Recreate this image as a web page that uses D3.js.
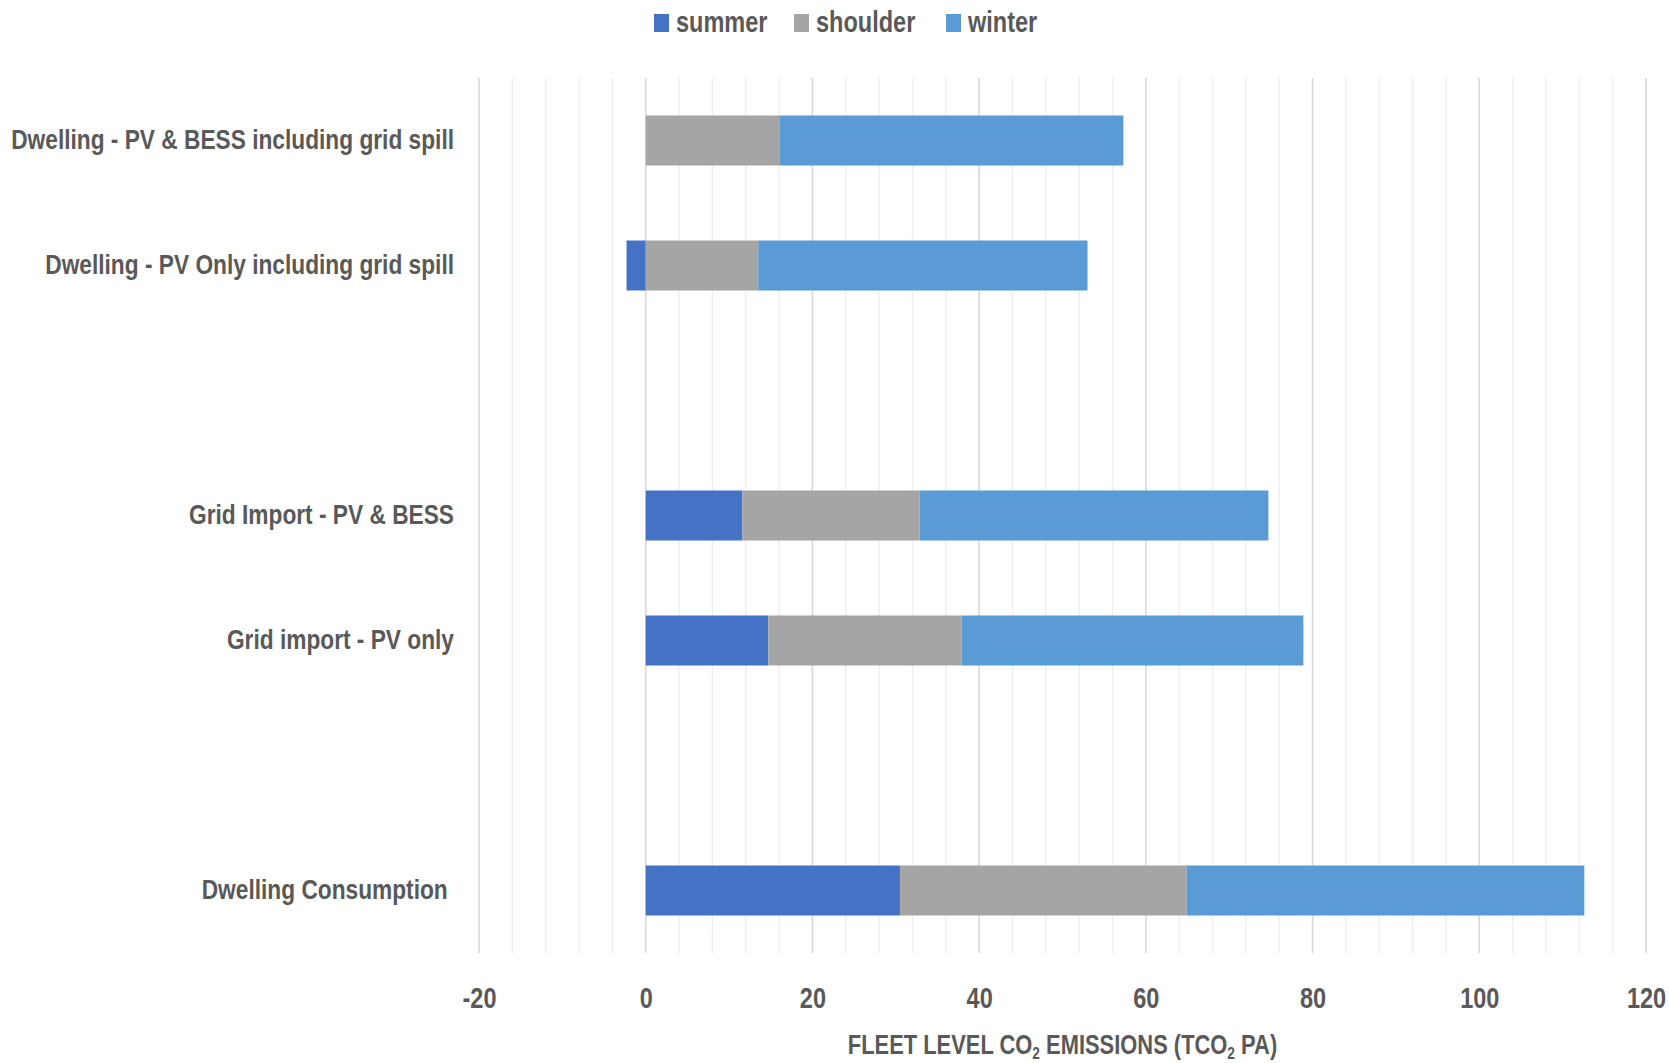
<!DOCTYPE html>
<html><head><meta charset="utf-8">
<script src="https://cdn.jsdelivr.net/npm/d3@7"></script>
<style>
html,body{margin:0;padding:0;background:#fff;}
text{font-family:"Liberation Sans",Arial,sans-serif;font-weight:bold;fill:#595959;}
</style></head>
<body><svg id="c" width="1669" height="1063"></svg>
<script>
// ---- data ----
const categories = [
  "Dwelling - PV & BESS including grid spill",
  "Dwelling - PV Only including grid spill",
  "",
  "Grid Import - PV & BESS",
  "Grid import - PV only",
  "",
  "Dwelling Consumption\u00A0"
];
const seriesNames = ["summer", "shoulder", "winter"];
const summer   = [0,    -2.3, null, 11.6, 14.7, null, 30.5];
const shoulder = [16.1, 13.5, null, 21.25, 23.2, null, 34.4];
const winter   = [41.2, 39.5, null, 41.85, 41.0, null, 47.7];
const xTicks = [-20, 0, 20, 40, 60, 80, 100, 120];
const colors = ["#4472C4", "#A5A5A5", "#5B9BD5"];

// ---- layout ----
const pL = 479, pR = 1646, pT = 78, pB = 953;
const svg = d3.select("#c");

const x = d3.scaleLinear().domain([-20, 120]).range([pL, pR]);
const y = d3.scaleBand().domain(d3.range(categories.length)).range([pT, pB])
  .paddingInner(0.6).paddingOuter(0.3);

// gridlines
const minor = d3.range(-20, 120.001, 4);
svg.append("g").selectAll("line").data(minor).join("line")
  .attr("x1", d => x(d)).attr("x2", d => x(d))
  .attr("y1", pT).attr("y2", pB)
  .attr("stroke", "#EDEDED").attr("stroke-width", 1.3);
svg.append("g").selectAll("line").data(xTicks).join("line")
  .attr("x1", d => x(d)).attr("x2", d => x(d))
  .attr("y1", pT).attr("y2", pB)
  .attr("stroke", "#D9D9D9").attr("stroke-width", 1.5);

// stacked data
const rows = categories.map((c, i) => ({i, summer: summer[i] || 0, shoulder: shoulder[i] || 0, winter: winter[i] || 0, blank: summer[i] === null}));
const stack = d3.stack().keys(seriesNames).offset(d3.stackOffsetDiverging);
const layers = stack(rows.filter(r => !r.blank));

svg.append("g").selectAll("g").data(layers).join("g")
  .attr("fill", (d, k) => colors[k])
  .selectAll("rect").data(d => d.filter(p => p[1] !== p[0])).join("rect")
  .attr("x", p => x(Math.min(p[0], p[1])))
  .attr("width", p => Math.abs(x(p[1]) - x(p[0])))
  .attr("y", p => y(p.data.i))
  .attr("height", y.bandwidth());

// horizontal condensing to mimic the narrow reference face
function condense(sel, f) {
  sel.each(function () {
    const el = d3.select(this);
    const tx = +el.attr("x") || 0, ty = +el.attr("y") || 0;
    el.attr("transform", `translate(${tx},${ty}) scale(${f},1) translate(${-tx},${-ty})`);
  });
}

// category labels
const labels = svg.append("g").selectAll("text").data(categories.map((c, i) => ({c, i})).filter(d => d.c !== ""))
  .join("text")
  .attr("x", 454).attr("y", d => y(d.i) + y.bandwidth() / 2)
  .attr("dy", "0.29em").attr("text-anchor", "end")
  .style("font-size", "28px")
  .text(d => d.c);
const F = 443 / labels.node().getComputedTextLength();
condense(labels, F);

// x axis tick labels
const xAxis = d3.axisBottom(x).tickValues(xTicks).tickFormat(d => String(d)).tickSize(0).tickPadding(0);
const ax = svg.append("g").attr("transform", `translate(0,1008)`).call(xAxis);
ax.select(".domain").remove();
const tl = ax.selectAll("text").attr("y", 0).attr("dy", 0).attr("x", 0)
  .style("font-size", "29px").style("font-family", null).attr("fill", "#595959");
tl.attr("transform", `scale(${F},1)`);

// axis title
const t = svg.append("text").attr("x", (pL + pR) / 2).attr("y", 1054)
  .attr("text-anchor", "middle").style("font-size", "27px");
t.append("tspan").text("FLEET LEVEL CO");
t.append("tspan").attr("dy", 5).style("font-size", "17px").text("2");
t.append("tspan").attr("dy", -5).text(" EMISSIONS (TCO");
t.append("tspan").attr("dy", 5).style("font-size", "17px").text("2");
t.append("tspan").attr("dy", -5).text(" PA)");
condense(t, F);

// legend
const legendX = [654, 794, 946];
const lg = svg.append("g").selectAll("g").data(seriesNames).join("g")
  .attr("transform", (d, k) => `translate(${legendX[k]},14)`);
lg.append("rect").attr("width", 15).attr("height", 18).attr("fill", (d, k) => colors[k]);
const lt = lg.append("text").attr("x", 22).attr("y", 18).style("font-size", "29px").text(d => d);
condense(lt, F);
</script></body></html>
